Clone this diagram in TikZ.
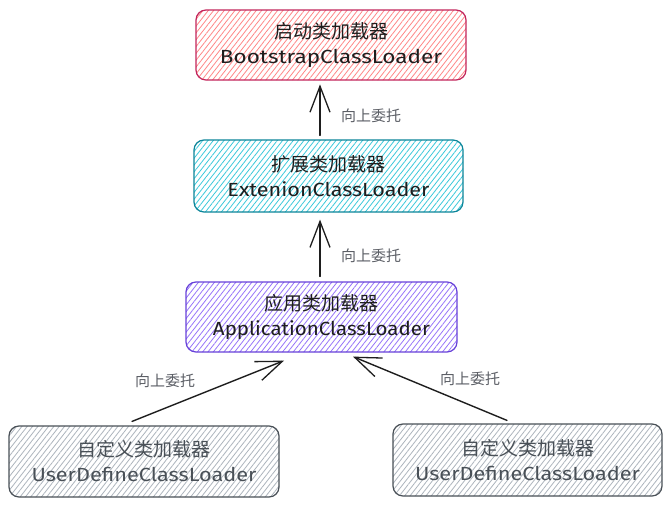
\documentclass[tikz,border=0pt]{standalone}
\usepackage{fontspec}
\setmainfont{Fira Sans}
\newfontfamily\cjk{Noto Sans CJK SC}
\usetikzlibrary{patterns.meta,arrows.meta,calc}
\definecolor{redS}{HTML}{C2255C}
\definecolor{redF}{HTML}{FF8787}
\definecolor{tealS}{HTML}{0C8599}
\definecolor{tealF}{HTML}{3BC9DB}
\definecolor{purS}{HTML}{6741D9}
\definecolor{purF}{HTML}{9775FA}
\definecolor{grayS}{HTML}{495057}
\definecolor{grayF}{HTML}{ADB5BD}
\definecolor{ink}{HTML}{1E1E1E}
\definecolor{labc}{HTML}{5C5F66}
\newcommand{\entext}[2]{\resizebox{#1pt}{\height}{#2}}
\tikzset{
  box/.style={draw, line width=1.2pt, rounded corners=10pt, inner sep=0pt,
    align=center, minimum width=270pt, minimum height=71pt,
    font=\fontsize{19}{25}\selectfont, text=ink},
  hatch/.style={pattern={Lines[angle=52,distance=4.2pt,line width=0.8pt]}, pattern color=#1},
  up/.style={line width=1.4pt, line cap=round, draw=ink,
    -{Straight Barb[length=26pt,width=20pt,line width=1.3pt]}},
  lab/.style={font=\cjk\fontsize{15}{16}\selectfont, text=labc, inner sep=0pt}
}
\begin{document}
\begin{tikzpicture}[x=1pt,y=-1pt]
\useasboundingbox[fill=white] (0,0) rectangle (672,509);

\node[box, draw=redS, hatch=redF, minimum width=270pt, minimum height=70pt] (boot) at (331,45)
  {{\cjk 启动类加载器}\\ \entext{222}{BootstrapClassLoader}};
\node[box, draw=tealS, hatch=tealF, minimum width=269pt, minimum height=72pt] (ext) at (328.5,176)
  {{\cjk 扩展类加载器}\\ \entext{202}{ExtenionClassLoader}};
\node[box, draw=purS, hatch=purF, minimum width=271pt, minimum height=70pt] (app) at (321.5,317)
  {{\cjk 应用类加载器}\\ \entext{217}{ApplicationClassLoader}};
\node[box, draw=grayS, hatch=grayF, text=grayS, minimum width=270pt, minimum height=71pt] (udl) at (144,461.5)
  {{\cjk 自定义类加载器}\\ \entext{225}{UserDefineClassLoader}};
\node[box, draw=grayS, hatch=grayF, text=grayS, minimum width=269pt, minimum height=72pt] (udr) at (527.5,460)
  {{\cjk 自定义类加载器}\\ \entext{225}{UserDefineClassLoader}};

\draw[up] ($(ext.north)+(-8.5,-4)$) -- ($(boot.south)+(-11,4)$);
\draw[up] ($(app.north)+(-1.5,-5)$) -- ($(ext.south)+(-8.5,7)$);
\draw[up] ($(udl.north)+(-12,-4)$) -- ($(app.south)+(-37.5,8)$);
\draw[up] ($(udr.north)+(-20.5,-3)$) -- ($(app.south)+(31.5,4)$);

\node[lab] (l1) at (371,116) {向上委托};
\node[lab] (l2) at (371,256) {向上委托};
\node[lab] (l3) at (165,381) {向上委托};
\node[lab] (l4) at (470,379) {向上委托};
\end{tikzpicture}
\end{document}
